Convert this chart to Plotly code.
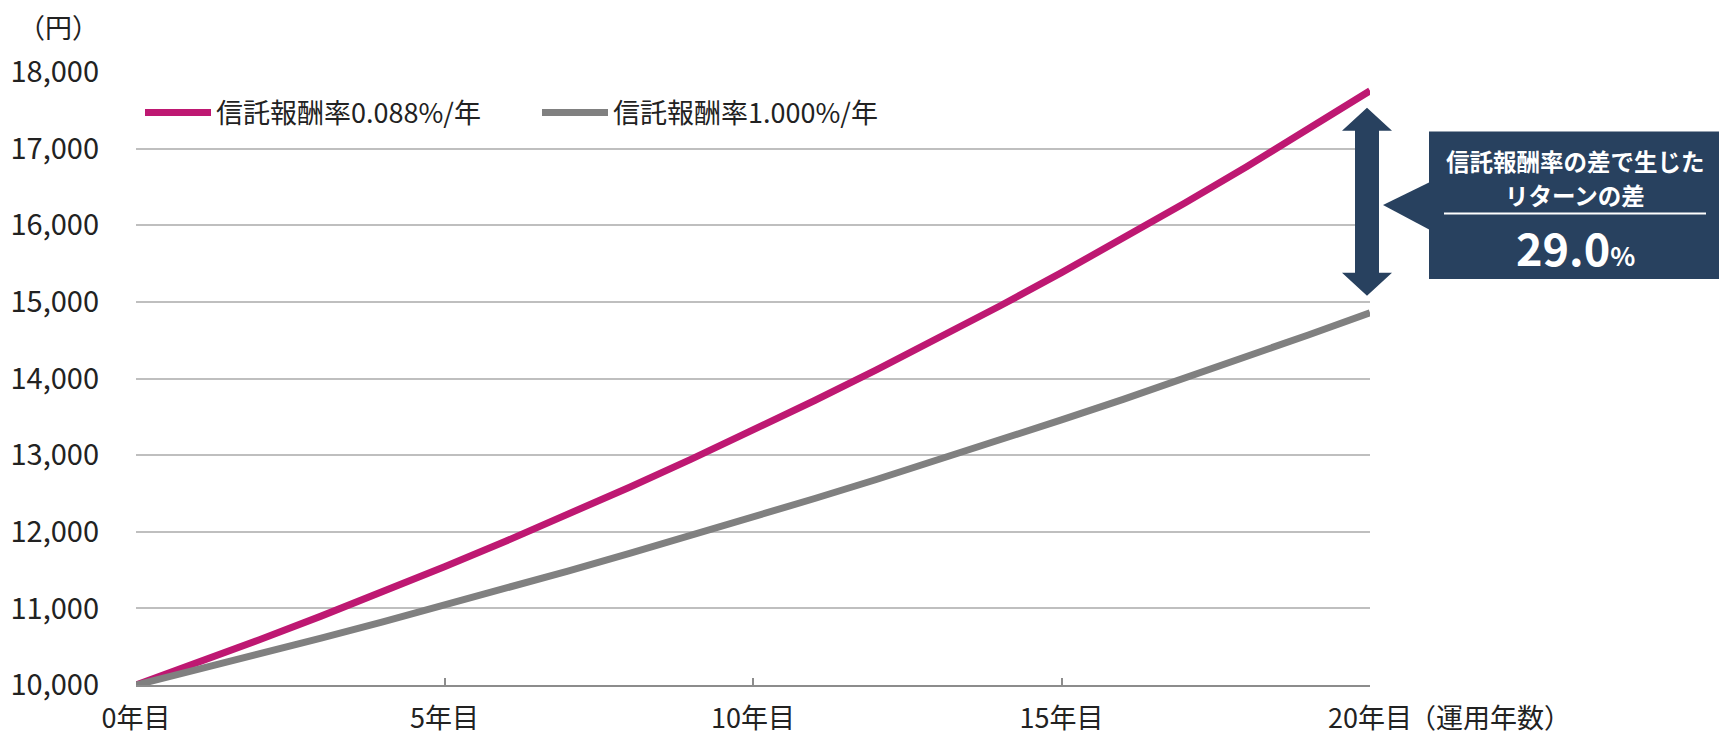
import plotly.graph_objects as go

# ---- data ----
years = list(range(0, 21))
fee_low_values = [10000, 10291, 10591, 10899, 11217, 11543, 11879, 12225, 12581, 12948,
                  13325, 13713, 14112, 14523, 14946, 15381, 15829, 16290, 16764, 17253, 17755]
fee_high_values = [10000, 10200, 10404, 10612, 10824, 11041, 11262, 11487, 11717, 11951,
                   12190, 12434, 12682, 12936, 13195, 13459, 13728, 14002, 14282, 14568, 14859]
series_names = ["信託報酬率0.088%/年", "信託報酬率1.000%/年"]
x_tick_vals = [0, 5, 10, 15, 20]
x_tick_text = ["0年目", "5年目", "10年目", "15年目", "20年目"]
diff_label = "29.0"

FONT = "Noto Sans CJK JP"
MAGENTA = "#BE1872"
GRAY = "#808080"
NAVY = "#28415F"
TXT = "#222222"

W, H = 1719, 737
L, R, T, B = 136, 349, 72, 52
PW, PH = W - L - R, H - T - B
Y0, Y1 = 10000, 18000


def px(x):
    return (x - L) / PW


def py(y):
    return (H - B - y) / PH


fig = go.Figure()
fig.add_trace(go.Scatter(x=years, y=fee_low_values, mode="lines", name=series_names[0],
                         line=dict(color=MAGENTA, width=7)))
fig.add_trace(go.Scatter(x=years, y=fee_high_values, mode="lines", name=series_names[1],
                         line=dict(color=GRAY, width=7)))

fig.update_layout(
    width=W, height=H,
    margin=dict(l=L, r=R, t=T, b=B, pad=0, autoexpand=False),
    paper_bgcolor="white", plot_bgcolor="white",
    font=dict(family=FONT, size=27, color=TXT),
    showlegend=True,
    legend=dict(orientation="h", x=px(140), y=py(113), xanchor="left", yanchor="middle",
                itemwidth=66, entrywidth=316, font=dict(size=27, color=TXT),
                bgcolor="rgba(0,0,0,0)", tracegroupgap=0, itemclick=False),
    xaxis=dict(range=[0, 20], tickvals=x_tick_vals, ticktext=x_tick_text, automargin=False,
               showgrid=False, zeroline=False, showline=True, linecolor="#8C8C8C", linewidth=2,
               ticks="inside", ticklen=7, tickwidth=1.5, tickcolor="#8C8C8C",
               ticklabelstandoff=9, tickfont=dict(size=27, color=TXT)),
    yaxis=dict(range=[Y0, Y1], dtick=1000, tickformat=",", automargin=False,
               showgrid=True, gridcolor="#BFBFBF", gridwidth=2, zeroline=False,
               showline=False, ticks="", ticklabelstandoff=36,
               tickfont=dict(size=29, color=TXT)),
)

# pixel position of the midpoint between the two end values
mid_val = (fee_low_values[-1] + fee_high_values[-1]) / 2
mid_px = (H - B) - (mid_val - Y0) / (Y1 - Y0) * PH
ax = 1367  # arrow centre x (px)


def pt(dx, dy):
    return f"{px(ax + dx)},{py(mid_px + dy)}"


arrow_path = ("M " + pt(0, -94) + " L " + pt(25, -71) + " L " + pt(12, -71) + " L " + pt(12, 71)
              + " L " + pt(25, 71) + " L " + pt(0, 94) + " L " + pt(-25, 71) + " L " + pt(-12, 71)
              + " L " + pt(-12, -71) + " L " + pt(-25, -71) + " Z")

shapes = [
    dict(type="path", xref="paper", yref="paper", path=arrow_path,
         fillcolor=NAVY, line=dict(width=0), layer="above"),
    dict(type="rect", xref="paper", yref="paper",
         x0=px(1429), x1=px(1719), y0=py(279), y1=py(131.5),
         fillcolor=NAVY, line=dict(width=0), layer="above"),
    dict(type="path", xref="paper", yref="paper",
         path=f"M {px(1383)},{py(205)} L {px(1430)},{py(182)} L {px(1430)},{py(230)} Z",
         fillcolor=NAVY, line=dict(width=0), layer="above"),
    dict(type="line", xref="paper", yref="paper",
         x0=px(1444), x1=px(1706), y0=py(213.5), y1=py(213.5),
         line=dict(color="white", width=2), layer="above"),
]
fig.update_layout(shapes=shapes)

cx = px(1575)
annotations = [
    dict(text="（円）", xref="paper", yref="paper", x=px(58), y=py(26),
         xanchor="center", yanchor="middle", showarrow=False,
         font=dict(size=27, color=TXT)),
    dict(text="（運用年数）", xref="x", yref="paper", x=years[-1], xshift=38, y=py(716.5),
         xanchor="left", yanchor="middle", showarrow=False, borderpad=0,
         font=dict(size=27, color=TXT)),
    dict(text="<b>信託報酬率の差で生じた</b>", xref="paper", yref="paper", x=cx, y=py(161),
         xanchor="center", yanchor="middle", showarrow=False, borderpad=0,
         font=dict(size=23.5, color="white")),
    dict(text="<b>リターンの差</b>", xref="paper", yref="paper", x=cx, y=py(195),
         xanchor="center", yanchor="middle", showarrow=False, borderpad=0,
         font=dict(size=23.5, color="white")),
    dict(text=f"<b>{diff_label}</b><b><span style='font-size:26px'>%</span></b>",
         xref="paper", yref="paper", x=cx, y=py(246),
         xanchor="center", yanchor="middle", showarrow=False, borderpad=0,
         font=dict(size=45, color="white")),
]
fig.update_layout(annotations=annotations)

fig.write_html("out.html")
